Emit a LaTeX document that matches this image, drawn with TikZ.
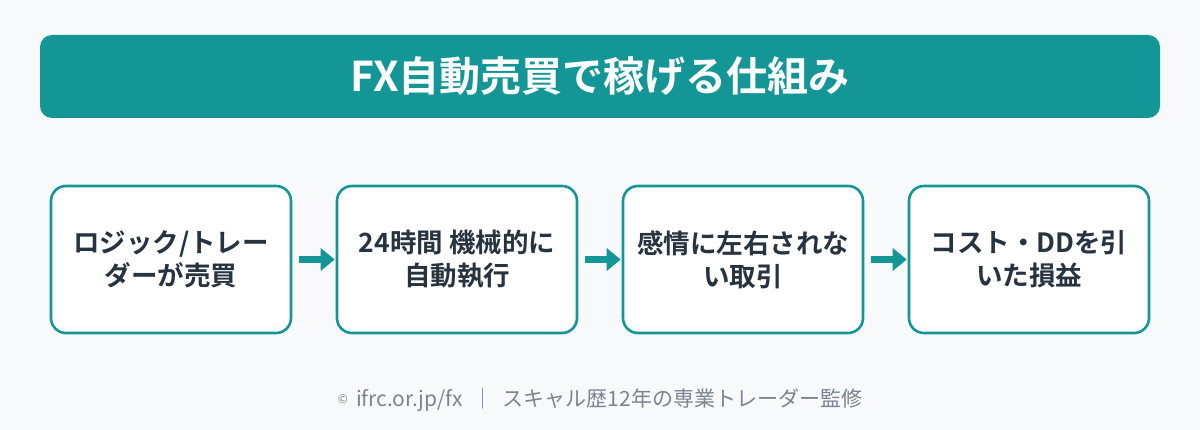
\documentclass[tikz,border=0pt]{standalone}
\usepackage{fontspec}
\usetikzlibrary{arrows.meta}
\setmainfont{Noto Sans CJK JP}
\newfontfamily\jpbold{Noto Sans CJK JP Bold}
\definecolor{bgc}{HTML}{F7F9FA}
\definecolor{teal1}{HTML}{159696}
\definecolor{darktext}{HTML}{283340}
\definecolor{footgray}{HTML}{7B8491}
\begin{document}
\begin{tikzpicture}[x=1pt,y=-1pt,
  stepbox/.style={draw=teal1,line width=2.6pt,fill=white,rounded corners=15pt,minimum width=240pt,minimum height=147pt,inner sep=0pt,align=center,font=\jpbold\fontsize{26.5}{33}\selectfont,text=darktext},
  flow/.style={draw=teal1,line width=7pt,-{Triangle[width=22pt,length=14pt]}}]
\fill[bgc] (0,0) rectangle (1200,430);
\useasboundingbox (0,0) rectangle (1200,430);
\node[fill=teal1,rounded corners=12pt,minimum width=1120pt,minimum height=83pt,inner sep=0pt] (head) at (600,76.5) {};
\node[text=white,font=\jpbold\fontsize{41}{44}\selectfont] (title) at (600,76) {FX自動売買で稼げる仕組み};
\node[stepbox] (b1) at (171,259.5) {ロジック/トレー\\ダーが売買};
\node[stepbox] (b2) at (457,259.5) {24時間 機械的に\\自動執行};
\node[stepbox] (b3) at (743,259.5) {感情に左右されな\\い取引};
\node[stepbox] (b4) at (1029,259.5) {コスト・DDを引\\いた損益};
\draw[flow] ([xshift=7pt]b1.east) -- ([xshift=-1pt]b2.west);
\draw[flow] ([xshift=7pt]b2.east) -- ([xshift=-1pt]b3.west);
\draw[flow] ([xshift=7pt]b3.east) -- ([xshift=-1pt]b4.west);
\node[text=footgray,font=\fontsize{21}{24}\selectfont] (foot) at (600,400) {\raisebox{3pt}{\fontsize{12}{13}\selectfont ©}\, ifrc.or.jp/fx \ ｜ \ スキャル歴12年の専業トレーダー監修};
\end{tikzpicture}
\end{document}
